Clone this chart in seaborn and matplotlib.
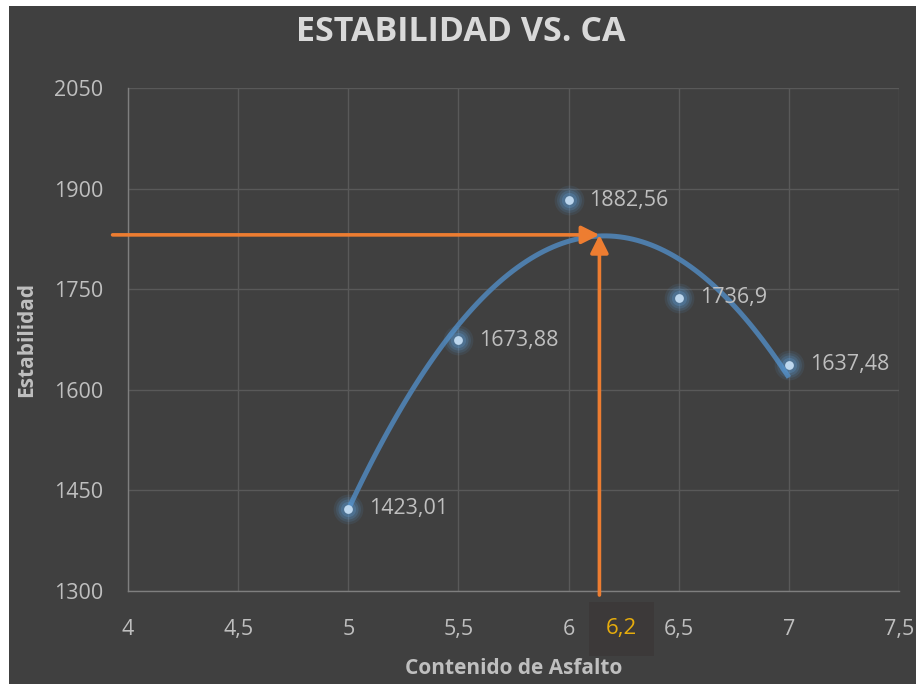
import matplotlib
matplotlib.use("Agg")
import matplotlib.pyplot as plt
import seaborn as sns
import pandas as pd
from matplotlib.patches import Rectangle

# ---- data ----
asphalt = [5.0, 5.5, 6.0, 6.5, 7.0]
stability = [1423.01, 1673.88, 1882.56, 1736.9, 1637.48]
point_labels = ["1423,01", "1673,88", "1882,56", "1736,9", "1637,48"]
x_ticks = [4, 4.5, 5, 5.5, 6, 6.5, 7, 7.5]
x_tick_labels = ["4", "4,5", "5", "5,5", "6", "6,5", "7", "7,5"]
y_ticks = [1300, 1450, 1600, 1750, 1900, 2050]
y_tick_labels = ["1300", "1450", "1600", "1750", "1900", "2050"]
optimum_x = 6.14
optimum_y = 1831
optimum_label = "6,2"

df = pd.DataFrame({"CA": asphalt, "Estabilidad": stability})

BG = "#404040"
TXT = "#BFBFBF"
GRID = "#595959"
ORANGE = "#ED7D31"
FONT = ["Open Sans", "DejaVu Sans"]

sns.set_theme(style="dark")
plt.rcParams["font.family"] = FONT

fig = plt.figure(figsize=(9.16, 6.84), dpi=100)
fig.patch.set_facecolor("white")
fig.patches.append(Rectangle((9 / 916, 0), 1 - 9 / 916, 1 - 6 / 684,
                             transform=fig.transFigure, facecolor=BG,
                             edgecolor="none", zorder=-10))
ax = fig.add_axes([128 / 916, 1 - 591 / 684, (899 - 128) / 916, (591 - 88) / 684])
ax.set_facecolor(BG)

# trendline (2nd order polynomial)
sns.regplot(data=df, x="CA", y="Estabilidad", order=2, ci=None, scatter=False,
            ax=ax, line_kws=dict(color="#4E7DAA", lw=3.6, solid_capstyle="butt", zorder=3))

# markers with soft glow
for size, alpha in [(460, 0.10), (320, 0.14), (210, 0.20), (120, 0.28)]:
    sns.scatterplot(data=df, x="CA", y="Estabilidad", ax=ax, s=size, color="#5B9BD5",
                    alpha=alpha, linewidth=0, zorder=4, legend=False)
sns.scatterplot(data=df, x="CA", y="Estabilidad", ax=ax, s=40, color="#BDD7EE",
                linewidth=0, zorder=5, legend=False)

for xv, yv, lab in zip(asphalt, stability, point_labels):
    ax.annotate(lab, (xv, yv), xytext=(15, 0), textcoords="offset points",
                color=TXT, fontsize=15.5, va="center", ha="left", zorder=6)

ax.set_xlim(4, 7.5)
ax.set_ylim(1300, 2050)
ax.set_xticks(x_ticks)
ax.set_xticklabels(x_tick_labels)
ax.set_yticks(y_ticks)
ax.set_yticklabels(y_tick_labels)
ax.tick_params(axis="both", colors=TXT, labelsize=15.5, length=0)
ax.tick_params(axis="y", pad=18)
ax.tick_params(axis="x", pad=20)
ax.grid(True, color=GRID, lw=1)
for s in ["top", "right"]:
    ax.spines[s].set_visible(False)
for s in ["left", "bottom"]:
    ax.spines[s].set_visible(True)
    ax.spines[s].set_color("#7F7F7F")
    ax.spines[s].set_linewidth(1)

ax.set_xlabel("Contenido de Asfalto", color=TXT, fontsize=15, fontweight="bold", labelpad=13)
ax.set_ylabel("Estabilidad", color=TXT, fontsize=15, fontweight="bold", labelpad=12)
fig.suptitle("ESTABILIDAD VS. CA", color="#D9D9D9", fontsize=24.5, fontweight="bold",
             x=461 / 916, y=1 - 15 / 684, va="top")

# orange arrows
arrow_kw = dict(arrowstyle="-|>,head_length=0.9,head_width=0.45", color=ORANGE, lw=2.6,
                shrinkA=0, shrinkB=0)
ax.annotate("", xy=(optimum_x, optimum_y), xytext=(3.93, optimum_y),
            arrowprops=arrow_kw, annotation_clip=False, zorder=7)
ax.annotate("", xy=(optimum_x, optimum_y), xytext=(optimum_x, 1294),
            arrowprops=arrow_kw, annotation_clip=False, zorder=7)

ax.annotate(optimum_label, (optimum_x, 1300), xytext=(22, -38), textcoords="offset pixels",
            color="#E6AC0C", fontsize=16, ha="center", va="center", annotation_clip=False,
            bbox=dict(boxstyle="square,pad=0.75", facecolor="#3C3939", edgecolor="none"))

fig.savefig("out.png", dpi=100, facecolor=fig.get_facecolor())
